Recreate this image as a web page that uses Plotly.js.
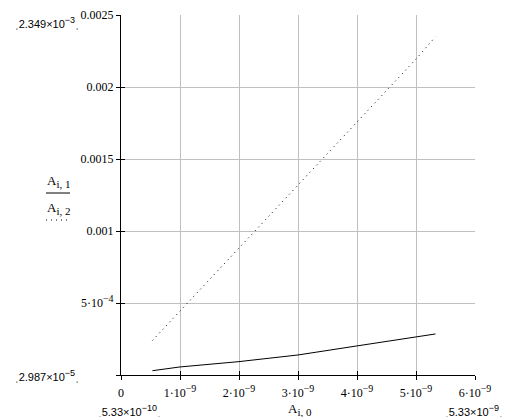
<!DOCTYPE html>
<html><head><meta charset="utf-8">
<script src="https://cdn.plot.ly/plotly-3.0.1.min.js"></script>
<style>html,body{margin:0;padding:0;background:#fff}</style></head>
<body><div id="chart" style="width:513px;height:417px"></div>
<script>
// data
const xVals = [5.33e-10, 1e-9, 2e-9, 3e-9, 4e-9, 5e-9, 5.33e-9];
const col1  = [2.987e-5, 5.6e-5, 9.3e-5, 1.39e-4, 2.02e-4, 2.61e-4, 2.85e-4];
const col2  = [2.4e-4, 4.44e-4, 8.81e-4, 1.317e-3, 1.761e-3, 2.194e-3, 2.349e-3];
const sup = (t, s) => "<sup><span style='font-size:" + s + "px'>" + t + "</span></sup>";
const sub = t => "<sub><span style='font-size:11px'>" + t + "</span></sub>";
const xTickVals = [0, 1e-9, 2e-9, 3e-9, 4e-9, 5e-9, 6e-9];
const xTickText = ["0", "1·10" + sup("−9", 10), "2·10" + sup("−9", 10), "3·10" + sup("−9", 10), "4·10" + sup("−9", 10), "5·10" + sup("−9", 10), "6·10" + sup("−9", 10)];
const yTickVals = [0, 0.0005, 0.001, 0.0015, 0.002, 0.0025];
const yTickText = ["", "5·10" + sup("−4", 10), "0.001", "0.0015", "0.002", "0.0025"];
const limitLabels = {
  yMax: "2.349×10" + sup("−3", 9), yMin: "2.987×10" + sup("−5", 9),
  xMin: "5.33×10" + sup("−10", 9), xMax: "5.33×10" + sup("−9", 9)
};
const xTitle = "A" + sub("i, 0");
const legendNames = ["A" + sub("i, 1"), "A" + sub("i, 2")];

const W = 513, H = 417, L = 121, R = 38, T = 15, B = 42;
const pw = W - L - R, ph = H - T - B;
const px = v => (v - L) / pw, py = v => (H - B - v) / ph;

const serif = {family: "'Liberation Serif', 'Times New Roman', serif", size: 12, color: "#000"};
const serif13 = {family: "'Liberation Serif', 'Times New Roman', serif", size: 13, color: "#000"};
const sans = {family: "'Liberation Sans', Arial, sans-serif", size: 11, color: "#000"};

const traces = [
  {x: xVals, y: col1, mode: "lines", line: {color: "#000", width: 1}, hoverinfo: "skip"},
  {x: xVals, y: col2, mode: "lines", line: {color: "#000", width: 1, dash: "1px,4px"}, hoverinfo: "skip"},
  {x: xVals, y: col1, xaxis: "x2", yaxis: "y2", mode: "lines", line: {width: 0}, opacity: 0, hoverinfo: "skip"}
];

function lim(text, x, y, xa) {
  return {text: "ˌ" + text + "ˌ", xref: "paper", yref: "paper", x: px(x), y: py(y),
          xanchor: xa, yanchor: "middle", showarrow: false, font: sans};
}

const layout = {
  width: W, height: H, margin: {l: L, r: R, t: T, b: B},
  paper_bgcolor: "#fff", plot_bgcolor: "#fff", showlegend: false,
  xaxis: {range: [0, 6e-9], tickvals: xTickVals, ticktext: xTickText, ticks: "outside", ticklen: 4,
          tickcolor: "#000", showline: true, linecolor: "#000", linewidth: 1, showgrid: true,
          gridcolor: "#c0c0c0", gridwidth: 1, zeroline: false, tickfont: serif, fixedrange: true,
          ticklabelstandoff: 3},
  yaxis: {range: [0, 0.0025], tickvals: yTickVals, ticktext: yTickText, ticks: "outside", ticklen: 4,
          tickcolor: "#000", showline: true, linecolor: "#000", linewidth: 1, showgrid: true,
          gridcolor: "#c0c0c0", gridwidth: 1, zeroline: false, tickfont: serif, fixedrange: true},
  xaxis2: {overlaying: "x", anchor: "y2", range: [0, 6e-9], tickvals: xTickVals, ticks: "inside", ticklen: 4,
           tickcolor: "#000", showticklabels: false, showgrid: false, showline: false, zeroline: false, fixedrange: true},
  yaxis2: {overlaying: "y", anchor: "x2", side: "left", range: [0, 0.0025], tickvals: yTickVals, ticks: "inside", ticklen: 4,
           tickcolor: "#000", showticklabels: false, showgrid: false, showline: false, zeroline: false, fixedrange: true},
  annotations: [
    lim(limitLabels.yMax, 13, 22, "left"),
    lim(limitLabels.yMin, 13, 375, "left"),
    lim(limitLabels.xMin, 96, 410, "left"),
    lim(limitLabels.xMax, 443, 410, "left"),
    {text: xTitle, xref: "paper", yref: "paper", x: px(300), y: py(409), xanchor: "center", yanchor: "middle", showarrow: false, font: serif13},
    {text: legendNames[0], xref: "paper", yref: "paper", x: px(58), y: py(181), xanchor: "center", yanchor: "middle", showarrow: false, font: serif13},
    {text: legendNames[1], xref: "paper", yref: "paper", x: px(58), y: py(208), xanchor: "center", yanchor: "middle", showarrow: false, font: serif13}
  ],
  shapes: [
    {type: "line", xref: "paper", yref: "paper", x0: px(46), x1: px(70), y0: py(193), y1: py(193), line: {color: "#000", width: 1}},
    {type: "line", xref: "paper", yref: "paper", x0: px(46), x1: px(67), y0: py(220), y1: py(220), line: {color: "#000", width: 1, dash: "1px,4px"}}
  ]
};

Plotly.newPlot("chart", traces, layout, {displayModeBar: false, staticPlot: true});
</script>
</body></html>
